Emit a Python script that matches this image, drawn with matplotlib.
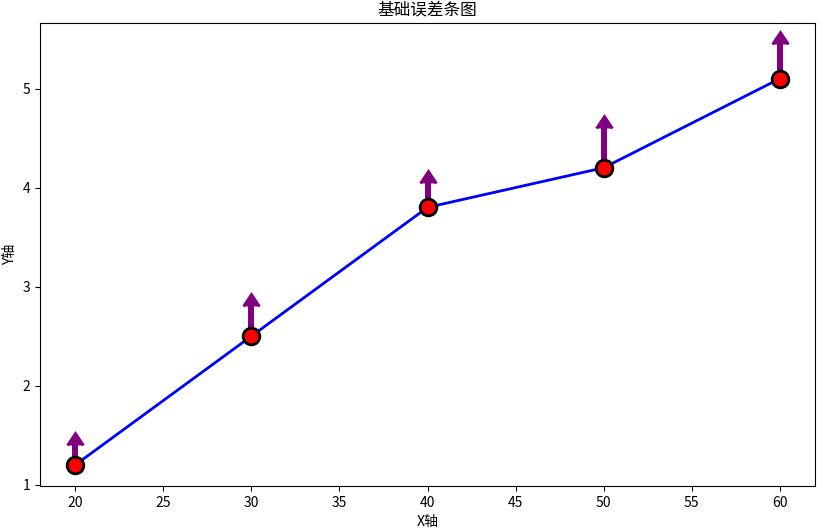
import matplotlib

matplotlib.use("Agg")

import matplotlib.pyplot as plt

plt.rcParams["font.family"] = ["Noto Sans CJK SC", "DejaVu Sans"]
plt.rcParams["axes.unicode_minus"] = False

# données
x = [20, 30, 40, 50, 60]
y = [1.2, 2.5, 3.8, 4.2, 5.1]
y_err = [0.2, 0.3, 0.25, 0.4, 0.35]

titre = "基础误差条图"
label_x = "X轴"
label_y = "Y轴"

fig, ax = plt.subplots(figsize=(8.25, 5.32), dpi=100)
fig.subplots_adjust(left=0.0485, right=0.988, top=0.957, bottom=0.0865)

# barres d'erreur (flèches vers le haut)
ax.errorbar(
    x, y, yerr=y_err, lolims=True, fmt="none",
    ecolor="purple", color="purple", elinewidth=4.3, capsize=6, capthick=2,
)
# courbe + marqueurs
ax.plot(
    x, y, "-o", color="blue", linewidth=2,
    markersize=12, markerfacecolor="red", markeredgecolor="black", markeredgewidth=2,
)

ax.set_title(titre, fontsize=12)
ax.set_xlabel(label_x)
ax.set_ylabel(label_y)

fig.savefig("out.png", dpi=100)
